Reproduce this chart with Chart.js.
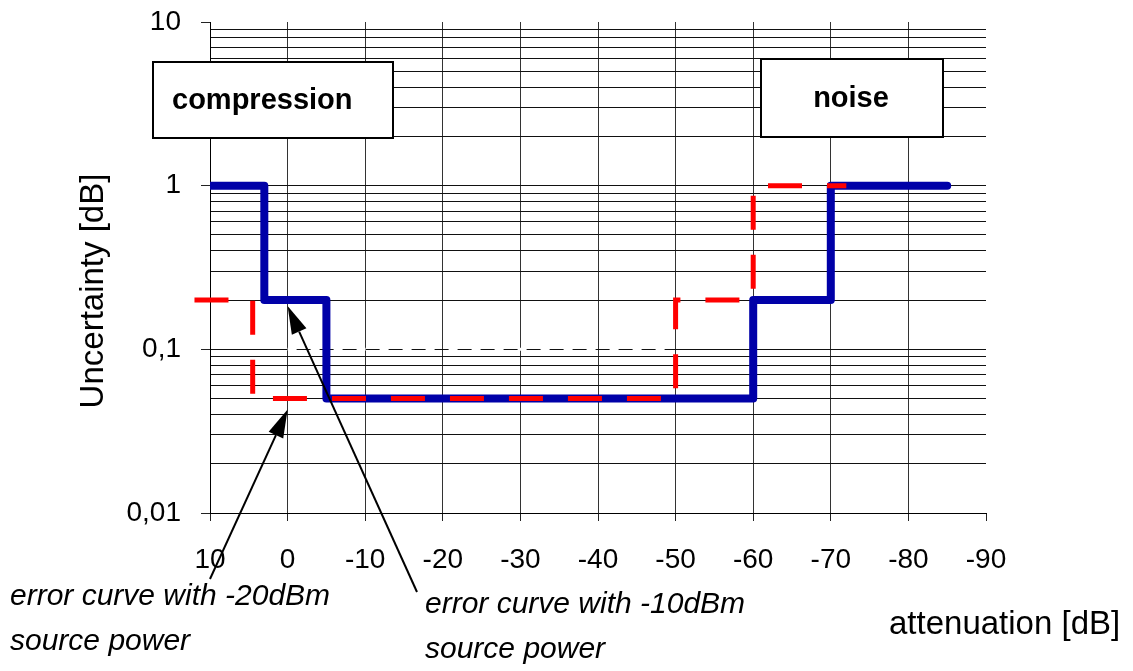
<!DOCTYPE html>
<html>
<head>
<meta charset="utf-8">
<script src="https://cdn.jsdelivr.net/npm/chart.js@4.4.1/dist/chart.umd.min.js"></script>
<style>
  html, body { margin: 0; padding: 0; background: #fff; }
</style>
</head>
<body>
<canvas id="chart" width="1133" height="671"></canvas>
<script>
// ── Data ──────────────────────────────────────────────────────
const X_TICKS = [10, 0, -10, -20, -30, -40, -50, -60, -70, -80, -90];
const Y_DECADES = [0.01, 0.1, 1];
const Y_STEPS = [1, 2, 3, 4, 5, 6, 7, 8, 9];
const Y_LABELS = { 0.01: '0,01', 0.1: '0,1', 1: '1', 10: '10' };

// error curve with -10dBm source power (solid blue)
const curve10X = [10, 3, -5, -60, -70, -85];
const curve10Y = [1, 0.2, 0.05, 0.2, 1, 1];

// error curve with -20dBm source power (dashed red)
const curve20X = [12, 4.5, -50, -60, -72];
const curve20Y = [0.2, 0.05, 0.2, 1, 1];

// faint white dashed trace at 0.1
const traceX = [0, -50];
const traceY = [0.1, 0.1];

const FONT = "'Liberation Sans', Arial, sans-serif";

// log grid: 1..9 in every decade, plus the top value
const Y_GRID = [];
Y_DECADES.forEach((d) => Y_STEPS.forEach((s) => Y_GRID.push(+(d * s).toPrecision(3))));
Y_GRID.push(10);

const toPoints = (xs, ys) => xs.map((x, i) => ({ x, y: ys[i] }));

// ── Annotations: boxes, arrows, captions, axis titles ─────────
function drawArrow(ctx, x0, y0, x1, y1) {
  const ang = Math.atan2(y1 - y0, x1 - x0);
  const len = 28, half = 8;
  const bx = x1 - len * Math.cos(ang), by = y1 - len * Math.sin(ang);
  ctx.beginPath();
  ctx.moveTo(x0, y0);
  ctx.lineTo(bx, by);
  ctx.stroke();
  ctx.beginPath();
  ctx.moveTo(x1, y1);
  ctx.lineTo(bx + half * Math.sin(ang), by - half * Math.cos(ang));
  ctx.lineTo(bx - half * Math.sin(ang), by + half * Math.cos(ang));
  ctx.closePath();
  ctx.fill();
}

function labelBox(ctx, x, y, w, h, text, tx, align) {
  ctx.fillStyle = '#fff';
  ctx.fillRect(x, y, w, h);
  ctx.strokeStyle = '#000';
  ctx.lineWidth = 2;
  ctx.strokeRect(x, y, w, h);
  ctx.fillStyle = '#000';
  ctx.font = `bold 29px ${FONT}`;
  ctx.textAlign = align;
  ctx.textBaseline = 'middle';
  ctx.fillText(text, tx, y + h / 2 + 1);
}

const annotations = {
  id: 'annotations',
  afterDraw(chart) {
    const { ctx, scales } = chart;
    const xs = scales.x, ys = scales.y;
    ctx.save();

    labelBox(ctx, 153, 62, 240, 76, 'compression', 172, 'left');
    labelBox(ctx, 761, 59, 182, 78, 'noise', 851, 'center');

    // arrows pointing at the two curves near 0 dB
    ctx.strokeStyle = '#000';
    ctx.fillStyle = '#000';
    ctx.lineWidth = 2;
    drawArrow(ctx, 210, 579, xs.getPixelForValue(0), ys.getPixelForValue(0.05) + 11);
    drawArrow(ctx, 417, 592, xs.getPixelForValue(0), ys.getPixelForValue(0.2) + 6);

    // captions
    ctx.font = `italic 30px ${FONT}`;
    ctx.textAlign = 'left';
    ctx.textBaseline = 'alphabetic';
    ctx.fillText('error curve with -20dBm', 10, 605);
    ctx.fillText('source power', 10, 650);
    ctx.fillText('error curve with -10dBm', 425, 613);
    ctx.fillText('source power', 425, 658);

    // axis titles
    ctx.font = `33px ${FONT}`;
    ctx.fillText('attenuation [dB]', 889, 634);
    ctx.translate(103, 291);
    ctx.rotate(-Math.PI / 2);
    ctx.textAlign = 'center';
    ctx.fillText('Uncertainty [dB]', 0, 0);

    ctx.restore();
  },
};

// ── Chart ─────────────────────────────────────────────────────
new Chart(document.getElementById('chart'), {
  type: 'line',
  data: {
    datasets: [
      {
        label: 'error curve with -20dBm source power',
        data: toPoints(curve20X, curve20Y),
        borderColor: '#FF0000',
        borderWidth: 5,
        borderDash: [34, 25],
        stepped: 'before',
        pointRadius: 0,
        clip: false,
        order: 1,
      },
      {
        label: 'error curve with -10dBm source power',
        data: toPoints(curve10X, curve10Y),
        borderColor: '#0000A8',
        borderWidth: 8,
        borderCapStyle: 'round',
        borderJoinStyle: 'round',
        stepped: 'before',
        pointRadius: 0,
        order: 2,
      },
      {
        label: 'trace',
        data: toPoints(traceX, traceY),
        borderColor: '#FFFFFF',
        borderWidth: 3,
        borderDash: [9, 14],
        pointRadius: 0,
        order: 3,
      },
    ],
  },
  options: {
    responsive: false,
    animation: false,
    events: [],
    layout: { padding: { left: 0, right: 147, top: 22, bottom: 0 } },
    plugins: {
      legend: { display: false },
      tooltip: { enabled: false },
    },
    scales: {
      x: {
        type: 'linear',
        min: -90,
        max: 10,
        reverse: true,
        afterBuildTicks: (s) => { s.ticks = X_TICKS.map((v) => ({ value: v })); },
        afterFit: (s) => { s.height = 158; },
        ticks: {
          autoSkip: false,
          maxRotation: 0,
          padding: 22,
          color: '#000',
          font: { family: FONT, size: 28 },
          callback: (v) => String(v),
        },
        grid: {
          color: (c) => (c.tick && c.tick.value === -90 ? 'rgba(0,0,0,0)' : '#333'),
          tickColor: '#222',
          tickLength: 8,
          lineWidth: 1,
        },
        border: { color: '#000', width: 1 },
      },
      y: {
        type: 'logarithmic',
        min: 0.01,
        max: 10,
        afterBuildTicks: (s) => { s.ticks = Y_GRID.map((v) => ({ value: v })); },
        afterFit: (s) => { s.width = 210; s.paddingTop = 0; s.paddingBottom = 0; },
        ticks: {
          autoSkip: false,
          padding: 20,
          color: '#000',
          font: { family: FONT, size: 28 },
          callback: (v) => Y_LABELS[v] || '',
        },
        grid: {
          color: (c) => (c.tick && c.tick.value === 10 ? 'rgba(0,0,0,0)' : '#111'),
          tickColor: (c) => (c.tick && Y_LABELS[c.tick.value] ? '#222' : 'rgba(0,0,0,0)'),
          tickLength: 9,
          lineWidth: 1,
        },
        border: { color: '#000', width: 1 },
      },
    },
  },
  plugins: [annotations],
});
</script>
</body>
</html>
